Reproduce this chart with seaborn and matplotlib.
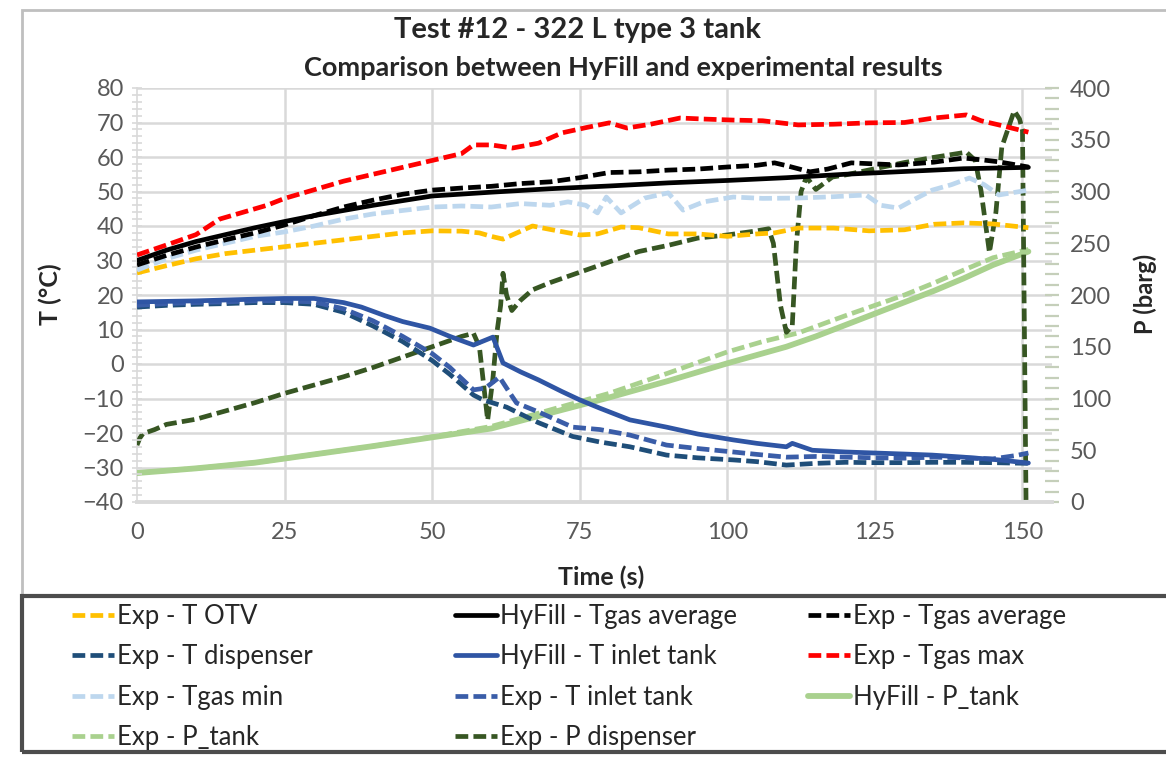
import numpy as np
import pandas as pd
import matplotlib
matplotlib.use("Agg")
import matplotlib.pyplot as plt
from matplotlib.ticker import MultipleLocator
from matplotlib.patches import Rectangle
import seaborn as sns

# ---------------- data ----------------
t_otv = [0, 5, 10, 15, 20, 25, 30, 35, 40, 45, 50, 55, 58, 60, 62, 65, 67, 70, 75, 78, 82, 85, 90, 95, 100, 105, 108, 112, 118, 124, 130, 135, 140, 145, 151]
v_otv = [26.4, 28.5, 30.5, 32, 33, 34, 35, 36, 37, 38, 38.6, 38.5, 38, 37, 36.2, 38.5, 40, 39, 37.4, 37.7, 39.7, 39.5, 37.7, 37.7, 37, 37.7, 38, 39.4, 39.4, 38.6, 38.9, 40.5, 40.9, 40.6, 39.5]

t_hy_tgas = [0, 5, 10, 15, 20, 25, 30, 40, 50, 60, 70, 80, 90, 100, 110, 120, 130, 140, 151]
v_hy_tgas = [30, 33, 35.5, 37.5, 39.5, 41.3, 43, 46, 48.7, 49.8, 50.8, 51.6, 52.5, 53.2, 54, 55, 55.8, 56.6, 57]

t_exp_tgas = [0, 5, 10, 15, 20, 25, 30, 35, 40, 45, 50, 55, 60, 65, 70, 75, 80, 85, 90, 95, 100, 105, 108, 110, 114, 117, 121, 125, 129, 135, 140, 143, 146, 151]
v_exp_tgas = [28.7, 31.5, 33.9, 36, 38, 40.3, 43, 45.5, 47.5, 49.2, 50.4, 51, 51.5, 52.3, 52.8, 54, 55.5, 55.7, 56.2, 56.5, 57.1, 57.6, 58.3, 57.5, 55.7, 56.5, 58.3, 58, 57.7, 58.5, 59.7, 59.2, 58.6, 57.1]

t_disp = [0, 5, 10, 15, 20, 25, 30, 35, 40, 45, 50, 53, 57, 58.6, 62.6, 68, 73.8, 78.4, 83.5, 89.7, 95, 101, 105, 110, 115, 120, 125, 130, 135, 140, 145, 151]
v_disp = [16.5, 17, 17.3, 17.5, 17.8, 17.8, 17.3, 15, 11, 6.5, 1, -3, -9, -10.4, -12.5, -17, -21, -22.6, -24, -26.4, -27.2, -27.8, -28.3, -29.3, -28.8, -28.5, -28.6, -28.6, -28.5, -28.5, -28.6, -28.8]

t_hy_inlet = [0, 10, 20, 25, 30, 35, 38, 42, 45, 49.6, 53, 57, 60.3, 62, 65, 68, 72, 75, 78.4, 83.5, 89.7, 95, 101, 105, 110, 111, 114.4, 120, 125, 130, 134.7, 140, 146, 151]
v_hy_inlet = [18, 18.3, 18.8, 19, 19, 17.8, 16.5, 14, 12.3, 10.4, 8, 5.5, 7.8, 0.3, -2.3, -4.6, -8, -10.4, -12.8, -16.2, -18.3, -20.3, -22, -23, -24, -23, -25, -25.5, -25.8, -26.1, -26.4, -27, -27.8, -28.7]

t_max = [0, 5, 10, 14, 18, 22, 25, 30, 35, 40, 45, 50, 55, 57, 60, 63.6, 68, 72, 76, 80, 83, 87, 92, 96, 101, 106, 112, 118, 124, 130, 135, 140.5, 143, 146, 151]
v_max = [31.6, 34.5, 37.5, 42, 44, 46, 48, 50.5, 53, 55, 57, 59, 61, 63.5, 63.5, 62.6, 64, 67, 68.5, 69.9, 68.4, 69.5, 71.3, 71, 70.7, 70.5, 69.3, 69.5, 69.9, 70, 71.3, 72.2, 70.5, 69.3, 67.2]

t_min = [0, 5, 10, 15, 20, 25, 30, 35, 40, 45, 50, 55, 60, 65, 70, 73, 76, 78, 79.5, 82, 86, 90, 92.5, 96, 101, 106, 112, 118, 123.5, 126, 129, 132, 134.7, 138, 141, 143.5, 146, 151]
v_min = [27.2, 30.5, 33, 35, 37, 38.3, 40, 42, 43.5, 44.5, 45.5, 45.8, 45.5, 46.5, 46, 47, 46, 43.8, 48.4, 43.8, 48.1, 49.6, 44.6, 47, 48.4, 48, 48.1, 48.5, 49, 46, 45.2, 48, 50.4, 52, 53.9, 52, 49, 50.4]

t_exp_inlet = [0, 5, 10, 15, 20, 25, 30, 35, 40, 45, 50, 53, 57, 59, 61.4, 63, 64.3, 68, 73.8, 78.4, 83.5, 89.7, 95, 101, 105, 110, 115, 120, 125, 130, 135, 140, 145, 149, 151]
v_exp_inlet = [17, 17.5, 17.8, 18, 18.3, 18.3, 18, 16, 12.5, 8, 3, -1, -7.5, -7, -3.8, -8, -11.3, -13.9, -18.3, -19, -20.6, -23.5, -24.5, -25.5, -26.2, -27, -26.8, -27, -27.2, -27.3, -27, -27.2, -27.5, -26.5, -25.8]

t_hy_ptank = [0, 10, 20, 25, 30, 40, 50, 60, 70, 80, 90, 100, 110, 115, 120, 125, 130, 135, 140, 145, 151]
v_hy_ptank = [28, 32.5, 38, 42, 46, 54, 62.5, 71, 86, 101, 117, 134, 150, 160, 171, 182, 193, 204, 216, 229, 242]

t_exp_ptank = [0, 10, 20, 25, 30, 40, 50, 60, 70, 80, 90, 100, 106, 112, 120, 125, 130, 135, 140, 145, 151]
v_exp_ptank = [28, 32.5, 38, 42, 46, 54, 63, 73, 89, 105, 124.6, 145, 155, 163.3, 180, 190, 200, 211.6, 224, 236, 244]

t_pdisp = [0, 0.5, 1, 3, 5, 10, 15, 20, 25, 30, 35, 40, 45, 50, 55, 57, 58, 59.4, 60.3, 61, 61.6, 62, 62.6, 63.5, 65, 67, 70, 75, 80, 85, 90, 95, 100, 105, 107, 107.8, 109, 110, 111, 111.7, 112.5, 113.4, 115, 117.8, 120, 125, 130, 135, 140.5, 142, 143, 144.4, 145.5, 146.5, 148.6, 149.5, 150, 150.6]
v_pdisp = [55, 62, 66, 70, 75, 80, 88, 96, 105, 113, 121, 130, 140, 150, 160, 163, 150, 79, 120, 165, 190, 221, 200, 185, 195, 205, 212, 222, 232, 242, 248, 255, 258, 262, 264, 250, 190, 164, 170, 250, 300, 314, 302, 314, 316, 322, 328, 333, 338, 330, 300, 241, 280, 343, 378, 370, 359, 2]

x_ticks = [0, 25, 50, 75, 100, 125, 150]
t_ticks = [-40, -30, -20, -10, 0, 10, 20, 30, 40, 50, 60, 70, 80]
p_ticks = [0, 50, 100, 150, 200, 250, 300, 350, 400]

# ---------------- style ----------------
sns.set_theme(style="white")
FONT = ["Lato", "DejaVu Sans"]
plt.rcParams["font.family"] = FONT

W, H = 1166, 758
fig = plt.figure(figsize=(W / 100, H / 100), dpi=100)
ax = fig.add_axes([137 / W, 1 - 502 / H, (1052 - 137) / W, (502 - 88) / H])
ax2 = ax.twinx()

DASH = (0, (2.7, 1.1))
LW = 3.4

def draw(a, t, v, color, ls, lw=LW, z=3):
    df = pd.DataFrame({"t": t, "v": v})
    sns.lineplot(data=df, x="t", y="v", ax=a, color=color, linestyle=ls, lw=lw,
                 sort=False, estimator=None, zorder=z, legend=False)
    return a.get_lines()[-1]

# pressure series on right axis
h_hy_ptank = draw(ax2, t_hy_ptank, v_hy_ptank, "#A9D18E", "-", lw=4.2)
h_exp_ptank = draw(ax2, t_exp_ptank, v_exp_ptank, "#A9D18E", DASH)
h_pdisp = draw(ax2, t_pdisp, v_pdisp, "#375623", DASH)

# temperature series on left axis
h_otv = draw(ax, t_otv, v_otv, "#FFC000", DASH)
h_min = draw(ax, t_min, v_min, "#BDD7EE", DASH)
h_max = draw(ax, t_max, v_max, "#FF0000", DASH)
h_exp_tgas = draw(ax, t_exp_tgas, v_exp_tgas, "#000000", DASH)
h_hy_tgas = draw(ax, t_hy_tgas, v_hy_tgas, "#000000", "-")
h_disp = draw(ax, t_disp, v_disp, "#1F4E79", DASH)
h_exp_inlet = draw(ax, t_exp_inlet, v_exp_inlet, "#3A5DA8", DASH)
h_hy_inlet = draw(ax, t_hy_inlet, v_hy_inlet, "#2F55A4", "-")

ax.set_xlabel("")
ax.set_ylabel("")
ax2.set_xlabel("")
ax2.set_ylabel("")

ax.set_zorder(ax2.get_zorder() + 1)
ax.patch.set_visible(False)
ax2.patch.set_visible(True)
ax2.patch.set_facecolor("white")

GRID = "#D9D9D9"
TICKC = "#595959"
ax.set_xlim(0, 155)
ax.set_ylim(-40, 80)
ax2.set_ylim(0, 400)
ax.set_xticks(x_ticks)
ax.set_yticks(t_ticks)
ax2.set_yticks(p_ticks)
ax.xaxis.set_minor_locator(MultipleLocator(5))
ax.yaxis.set_minor_locator(MultipleLocator(2))
ax2.yaxis.set_minor_locator(MultipleLocator(10))

ax2.grid(False)
ax.grid(False)
for yv in t_ticks[1:]:
    ax2.axhline((yv + 40) * 400 / 120, color=GRID, lw=1.8, zorder=0)
for xv in x_ticks[1:]:
    ax2.axvline(xv, color=GRID, lw=1.8, zorder=0)

for s in ["top", "right", "left", "bottom"]:
    ax.spines[s].set_visible(False)
    ax2.spines[s].set_visible(False)
ax2.spines["bottom"].set_visible(True)
ax2.spines["bottom"].set_color(GRID)
ax2.spines["bottom"].set_linewidth(2.8)
ax2.spines["left"].set_visible(True)
ax2.spines["left"].set_color(GRID)
ax2.spines["left"].set_linewidth(1.2)

ax.tick_params(axis="x", which="both", direction="inout", colors=GRID, labelcolor=TICKC,
               labelsize=17, length=9, width=1.8, pad=10)
ax.tick_params(axis="y", which="both", direction="inout", colors=GRID, labelcolor=TICKC,
               labelsize=17, length=7, width=1.2, pad=6)
ax2.tick_params(axis="y", which="both", direction="inout", colors="#C5CFBA", labelcolor=TICKC,
                labelsize=17, length=10, width=1.6, pad=8)

# axis titles
fig.text(601 / W, 1 - 577 / H, "Time (s)", ha="center", va="center", fontsize=18, fontweight="bold")
fig.text(50 / W, 1 - 294 / H, "T (°C)", ha="center", va="center", rotation=90, fontsize=18, fontweight="bold")
fig.text(1145 / W, 1 - 294 / H, "P (barg)", ha="center", va="center", rotation=90, fontsize=17, fontweight="bold")

fig.text(578 / W, 1 - 30 / H, "Test #12 - 322 L type 3 tank", ha="center", va="center",
         fontsize=21, fontweight="bold")
fig.text(623 / W, 1 - 68 / H, "Comparison between HyFill and experimental results", ha="center", va="center",
         fontsize=19.5, fontweight="bold")

# outer chart border and legend box
fig.patches.append(Rectangle((22 / W, 1 - 596 / H), 1.2, (596 - 10) / H, transform=fig.transFigure,
                             fill=False, edgecolor="#BFBFBF", lw=2, zorder=0))
fig.patches.append(Rectangle((22 / W, 1 - 752 / H), 1.2, (752 - 596) / H, transform=fig.transFigure,
                             fill=False, edgecolor="#4D4D4D", lw=3, zorder=1))

columns = [
    ([h_otv, h_disp, h_min, h_exp_ptank],
     ["Exp - T OTV", "Exp - T dispenser", "Exp - Tgas min", "Exp - P_tank"], 72),
    ([h_hy_tgas, h_hy_inlet, h_exp_inlet, h_pdisp],
     ["HyFill - Tgas average", "HyFill - T inlet tank", "Exp - T inlet tank", "Exp - P dispenser"], 455),
    ([h_exp_tgas, h_max, h_hy_ptank],
     ["Exp - Tgas average", "Exp - Tgas max", "HyFill - P_tank"], 808),
]
for hs, ls, x0 in columns:
    fig.legend(hs, ls, loc="upper left", bbox_to_anchor=(x0 / W, 1 - 604 / H),
               fontsize=18.5, frameon=False, handlelength=1.65, handletextpad=0.12,
               borderaxespad=0, borderpad=0, labelspacing=0.6)

fig.savefig("out.png", dpi=100)
